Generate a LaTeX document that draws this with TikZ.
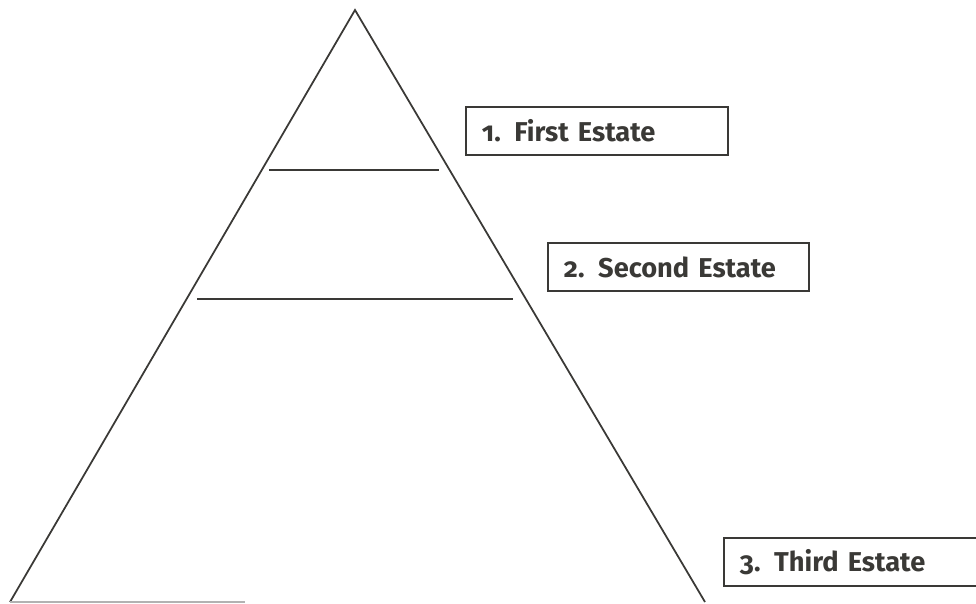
\documentclass[tikz,border=0pt]{standalone}
\usepackage{fontspec}
\setmainfont[Numbers=OldStyle]{Fira Sans}
\usepackage{tikz}
\usetikzlibrary{positioning}
\definecolor{inkgray}{HTML}{3A3936}

\begin{document}
\begin{tikzpicture}[x=0.02cm, y=-0.02cm,
    estate/.style={rectangle, draw=inkgray, line width=1.1pt, anchor=west,
                   minimum height=0.95cm, inner xsep=0.32cm, inner ysep=2pt, align=left,
                   text=inkgray, font=\fontsize{15.5}{17}\selectfont\bfseries},
    side/.style={draw=inkgray, line width=1pt},
    tier/.style={draw=inkgray, line width=1.1pt}]

    \useasboundingbox (0,0) rectangle (976,603);

    % Pyramid corners
    \coordinate (apex) at (355,10);
    \coordinate (baseleft) at (10,602);
    \coordinate (baseright) at (705,602);

    % Pyramid
    \draw[side] (baseleft) -- (apex) -- (baseright);
    \draw[draw=gray!60, line width=0.6pt] (baseleft) -- (245,602);
    \draw[tier] (269,170) -- (439,170);
    \draw[tier] (197,299) -- (513,299);

    % Labels
    \node[estate, text width=4.6cm] (first) at (465,131) {1. First Estate};
    \node[estate, text width=4.58cm] (second) at (547,267) {2. Second Estate};
    \node[estate, text width=4.8cm] (third) at (723,562) {3. Third Estate};

\end{tikzpicture}
\end{document}
